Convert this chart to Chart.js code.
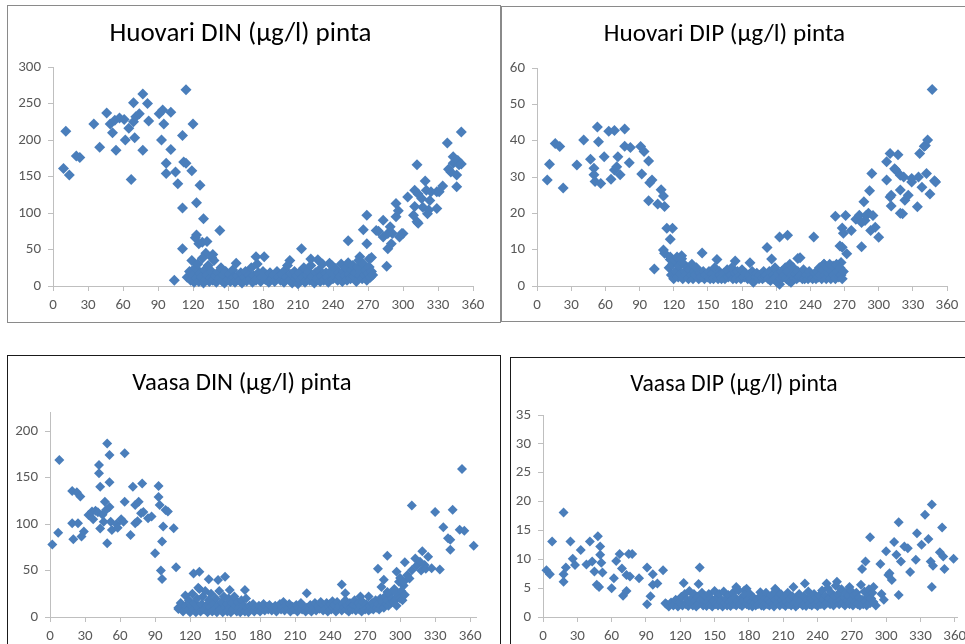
<!DOCTYPE html>
<html>
<head>
<meta charset="utf-8">
<script src="https://cdn.jsdelivr.net/npm/chart.js@4.4.1/dist/chart.umd.min.js"></script>
<style>
html, body { margin: 0; padding: 0; background: #fff; width: 965px; height: 644px; overflow: hidden; position: relative; }
.box { position: absolute; box-sizing: border-box; background: #fff; overflow: hidden; }
.box canvas { display: block; }
</style>
</head>
<body>
<div class="box" style="left:7px;top:5px;width:494px;height:318px;border:1px solid #8a8a8a"><canvas id="c1" width="492" height="316"></canvas></div>
<div class="box" style="left:501px;top:6px;width:472px;height:316px;border:1px solid #8a8a8a"><canvas id="c2" width="470" height="314"></canvas></div>
<div class="box" style="left:7px;top:355px;width:494px;height:300px;border:1px solid #1a1a1a"><canvas id="c3" width="492" height="290"></canvas></div>
<div class="box" style="left:510px;top:357px;width:470px;height:300px;border:1px solid #1a1a1a"><canvas id="c4" width="468" height="290"></canvas></div>
<script>
// day of year vs concentration
var dayTicks = [0, 30, 60, 90, 120, 150, 180, 210, 240, 270, 300, 330, 360];

var huovariDinTicks = [0, 50, 100, 150, 200, 250, 300];
var huovariDipTicks = [0, 10, 20, 30, 40, 50, 60];
var vaasaDinTicks = [0, 50, 100, 150, 200];
var vaasaDipTicks = [0, 5, 10, 15, 20, 25, 30, 35];

var huovariDIN = [
  [9,161],[11,212],[14,152],[20,178],[23,176],[35,222],[40,190],[46,237],[49,222],[51,210],[53,227],[54,186],[57,230],
  [61,228],[62,200],[65,216],[67,146],[69,225],[69,251],[70,203],[71,232],[74,236],[77,263],[77,186],[81,250],[82,226],
  [93,200],[91,236],[94,241],[95,222],[97,168],[97,154],[101,238],[101,187],[105,156],[104,8],[107,140],[111,206],
  [111,107],[111,51],[114,269],[112,170],[114,168],[119,158],[120,222],[123,114],[126,138],[129,92],[122,66],[125,58],
  [128,60],[123,70],[132,61],[143,76],[137,43],[119,35],[131,45],[136,39],[157,31],[174,40],[181,40],[203,35],[213,51],
  [221,37],[227,36],[237,31],[253,62],[263,40],[266,77],[269,97],[269,58],[271,37],[273,39],[277,76],[279,75],[283,90],
  [286,27],[283,67],[287,51],[291,72],[294,95],[294,113],[296,103],[300,72],[297,67],[290,58],[289,81],[287,72],[299,72],
  [309,97],[312,88],[312,166],[310,131],[313,126],[316,120],[310,109],[317,108],[319,144],[320,131],[322,104],[321,99],
  [323,117],[324,129],[329,106],[329,129],[331,129],[334,137],[338,196],[339,160],[341,156],[343,177],[343,168],[346,152],
  [346,136],[347,172],[348,166],[350,211],[350,167],[313,86],[304,122],
  [115,12],[117,20],[118,8],[120,15],[121,5],[122,25],[123,10],[124,30],[125,6],[126,18],[127,12],[128,38],[129,4],
  [130,22],[131,9],[132,15],[133,28],[134,6],[135,12],[136,20],[137,8],[138,35],[139,14],[140,5],[141,18],[142,10],
  [144,25],[145,7],[146,15],[147,4],[148,20],[150,10],[151,16],[152,6],[154,22],[155,12],[156,5],[158,14],[160,8],
  [161,18],[162,4],[164,12],[165,20],[166,7],[168,15],[169,10],[170,25],[171,5],[172,14],[174,8],[175,30],[176,18],
  [178,6],[179,12],[180,20],[182,9],[183,15],[185,5],[186,18],[188,10],[189,14],[190,6],[192,20],[193,12],[195,8],
  [196,16],[198,5],[199,22],[200,12],[201,28],[203,8],[204,16],[205,4],[207,20],[208,10],[209,14],[210,3],[211,18],
  [212,8],[214,12],[215,25],[216,5],[218,15],[219,20],[220,8],[221,28],[222,12],[224,4],[225,18],[226,10],[228,22],
  [229,6],[230,14],[231,30],[232,8],[234,18],[235,12],[236,5],[238,20],[239,28],[240,10],[241,15],[242,24],[244,8],
  [245,18],[246,12],[247,30],[248,6],[249,20],[250,14],[251,25],[252,8],[253,32],[254,16],[255,10],[256,22],[257,28],
  [258,12],[259,18],[260,6],[261,25],[262,35],[263,14],[264,20],[265,10],[266,30],[267,16],[268,22],[269,8],[270,18],
  [271,26],[272,12],[273,20],[274,15]
];

var huovariDIP = [
  [9,29.2],[11,33.5],[16,39.2],[20,38.4],[23,27],[35,33.3],[41,40.2],[47,34.9],[50,32.4],[50,30.6],[51,28.8],[53,43.8],
  [54,39.7],[56,28.2],[59,35.6],[63,42.6],[65,29.4],[68,42.8],[68,31.9],[70,32.8],[71,35.6],[73,30.6],[77,43.2],[77,38.5],
  [82,38.1],[81,33.9],[91,38.4],[94,37],[92,30.8],[98,34.4],[98,23.5],[101,29.2],[103,4.7],[99,28.4],[106,22.6],[109,26.5],
  [111,24.8],[112,21.9],[114,15.9],[119,15.9],[117,12.9],[111,9.9],[112,9],[145,9.1],[158,7.3],[174,6.9],[117,7.3],
  [127,8.3],[187,6.4],[202,10.6],[206,7.4],[213,13.5],[220,14],[229,7.6],[231,7.8],
  [243,13.5],[252,6],[262,19.2],[266,11],[267,6.5],[268,16],[268,10.7],[269,14.5],[271,19.4],[272,8.9],[276,15.3],
  [280,18.4],[283,19.5],[285,17.5],[285,10.8],[287,23.2],[288,18],[289,19.4],[291,20],[292,26.2],[293,15.3],[294,31],
  [295,19.4],[297,16.2],[300,13.4],[307,29.2],[307,34.2],[310,36.5],[310,24.5],[311,22],[311,25],[314,32.3],[315,31.9],
  [317,36.1],[319,30.5],[319,20],[319,26.4],[321,19.9],[322,30],[323,23.6],[326,25],[329,29.6],[329,28.6],[334,21.8],
  [335,30],[336,36.5],[338,27.2],[340,38.5],[341,38.7],[342,31],[343,40.2],[345,25.3],[347,54.1],[349,29],[350,28.6],
  [116,5],[117,8],[118,3],[119,6],[120,2],[121,7],[122,4],[123,8],[124,2.5],[125,5.5],[126,3.5],[127,7.5],[128,2],
  [129,6],[130,4],[131,3],[132,5],[133,2],[134,4.5],[135,3],[136,6],[137,2],[138,4],[139,3],[140,5],[142,2],[143,3.5],
  [144,2.5],[146,4],[147,2],[148,3],[150,2.5],[151,4],[152,2],[154,3.5],[155,2],[156,5],[157,3],[159,2],[160,4],[161,3],
  [162,2],[164,3.5],[165,2],[167,4.5],[168,2.5],[170,3],[171,5],[172,2],[174,3.5],[175,2],[176,4],[178,3],[179,2],
  [180,4.5],[182,2.5],[183,3.5],[185,2],[186,3],[188,2],[189,4],[190,1],[192,2.5],[193,3.5],[195,2],[196,3],[198,2],
  [199,4],[200,2.5],[201,3],[203,2],[204,4],[205,1.5],[207,3],[208,2],[209,5],[210,2.5],[211,1],[212,3.5],[213,0.5],
  [214,2],[215,4],[216,2.5],[217,3],[218,5],[219,2],[220,4],[221,1.5],[222,6],[223,1],[224,3],[225,5],[226,2],[227,3.5],
  [228,2],[229,4],[230,2.5],[232,3],[233,2],[234,4.5],[235,2],[236,3],[238,2],[239,4],[240,2.5],[241,3],[242,2],
  [244,3.5],[245,2],[246,4],[247,2.5],[248,5],[249,3],[250,2],[251,4.5],[252,6],[253,3],[254,2],[255,5],[256,3.5],
  [257,6],[258,2],[259,4],[260,5.5],[261,3],[262,2],[263,6],[264,4],[265,2.5],[266,5],[267,3],[268,2],[269,4]
];

var vaasaDIN = [
  [2,78],[7,90.7],[8,168.8],[19,135.5],[19,100.7],[20,83.5],[23,134.1],[24,100.7],[26,129.5],[27,86.5],[29,91.9],
  [33,109.8],[36,113.4],[37,105],[39,114.2],[41,112.7],[42,163.4],[42,154.5],[43,140.1],[43,95.3],[45,110],[46,102.5],
  [47,124],[48,115.1],[49,79.3],[49,186.7],[51,174.2],[51,144.8],[51,118.3],[52,102.5],[53,93.5],[57,100],[58,96],
  [61,105],[64,176],[63,102.5],[64,124],[69,88.2],[71,140.1],[73,120.4],[73,100.7],[75,103],[76,124],[79,143.7],
  [78,111.6],[80,113],[84,106.2],[87,108],[90,68.5],[93,141],[93,129.1],[94,120.4],[95,50],[96,41],[96,81.1],[97,97.2],
  [99,115.1],[101,113.4],[106,95.5],[108,53.5],[110,8.6],[116,23],[123,46.9],[128,48.7],[136,40.5],[144,39.8],
  [150,43.4],[167,29],[154,29],[127,31.5],
  [220,25.5],[250,35],[253,25.5],[266,22],[273,22],[281,52],[289,66],[297,48.7],[299,38],[284,32.3],[289,27],[293,19.7],
  [299,23.3],[300,42],[303,34],[304,59],[306,45],[310,120],[308,41.4],[310,50.4],[313,63],[314,55],[317,59.4],[318,50],
  [319,70.8],[321,55.8],[322,52],[324,64.8],[327,52.3],[330,112.8],[334,51.2],[337,96.6],[341,84.8],[343,72.3],[343,83],
  [345,115.3],[353,159.2],[351,93.9],[355,92.8],[363,76.7],[286,40],[295,30],
  [110,10],[112,15],[114,6],[116,12],[118,8],[119,18],[120,5],[121,12],[122,25],[123,8],[124,15],[125,5],[126,20],
  [127,10],[128,30],[129,6],[130,14],[131,22],[132,8],[133,28],[134,12],[135,5],[136,18],[137,10],[138,25],[139,6],
  [140,14],[141,8],[142,20],[143,5],[144,12],[145,28],[146,8],[147,16],[148,5],[149,22],[150,10],[151,14],[152,6],
  [153,20],[154,10],[155,5],[156,15],[157,8],[158,22],[159,12],[160,6],[161,16],[162,10],[163,5],[164,18],[165,8],
  [166,12],[167,6],[168,20],[169,10],[170,5],[171,12],[172,8],[174,14],[175,6],[176,10],[178,8],[179,12],[180,6],
  [182,10],[183,14],[184,7],[186,11],[187,8],[188,13],[190,7],[191,10],[193,12],[194,6],[195,9],[197,14],[198,8],
  [199,11],[200,16],[201,7],[202,12],[204,9],[205,14],[206,6],[208,11],[209,8],[211,13],[212,6],[213,10],[215,15],
  [216,8],[217,12],[219,6],[220,10],[222,8],[223,13],[224,6],[226,10],[227,15],[228,7],[230,12],[231,9],[232,16],
  [234,7],[235,12],[236,9],[237,15],[238,6],[239,11],[240,14],[241,8],[242,17],[243,10],[244,13],[245,6],[246,16],
  [247,9],[248,12],[250,7],[251,14],[252,10],[253,18],[254,8],[255,12],[256,6],[257,15],[258,10],[259,8],[260,13],
  [261,18],[262,7],[263,11],[264,15],[265,8],[266,12],[267,6],[268,16],[269,10],[270,8],[271,14],[272,10],[273,7],
  [274,12],[275,9],[276,15],[277,8],[278,12],[279,18],[280,10],[281,14],[282,8],[283,20],[284,12],[285,16],[286,10],
  [287,22],[288,14],[289,18],[290,12],[291,25],[292,15],[293,20],[294,16],[295,28],[296,18],[297,12],[298,22],[300,20],
  [301,28],[302,18],[303,38],[304,24]
];

var vaasaDIP = [
  [3,8.1],[6,7.4],[8,13.1],[18,18.1],[18,7.4],[20,8.6],[18,6.1],[24,13.1],[26,10.1],[28,9],[33,11.6],[38,9.1],
  [41,13.1],[43,9.6],[45,7.9],[47,5.6],[48,14],[50,12.2],[50,10.8],[51,9.4],[52,7.7],[49,5.2],[60,5],[62,6.7],
  [64,9.7],[67,10.9],[69,8.4],[70,3.7],[73,4.5],[73,7.3],[75,10.9],[78,10.9],[76,7],[84,6.7],[91,8.6],[91,2.2],
  [94,3.6],[96,7.4],[96,5.6],[100,5.8],[105,8.1],[107,2.4],[123,5.9],[137,8.6],[136,5.7],[169,5.2],[178,4.9],
  [340,19.5],[334,17.7],[349,15.5],[311,16.4],[286,13.8],[327,14.5],[337,13.5],[331,12.5],[319,11.9],[307,13],
  [347,11.2],[350,10.5],[359,10.1],[339,9.6],[326,9.9],[341,8.9],[351,8.3],[340,5.2],[311,3.8],[282,9.6],[279,8.3],
  [295,9.2],[300,11.4],[302,7.3],[313,9.6],[303,7.6],[289,5.2],[291,2],[286,3.2],[229,5.8],[257,6.1],[248,5.8],
  [268,5.2],[219,5.2],[203,4.9],[190,4.3],[176,4.6],[305,6.4],[309,10.8],[316,12.2],[321,7.8],[296,4],[298,3],
  [108,2.2],[110,1.8],[112,2.5],[114,2],[116,3],[118,1.8],[120,2.5],[121,3.5],[122,2],[124,4],[125,2.2],[126,3],
  [127,1.9],[128,4.5],[129,2.5],[130,3.2],[131,2],[132,4],[133,2.8],[134,1.8],[135,3.5],[136,2.2],[138,3],[139,4.2],
  [140,2],[141,2.8],[142,3.6],[143,1.9],[144,2.6],[145,4],[146,2.2],[147,3.2],[148,1.8],[149,2.8],[150,4.5],[151,2.2],
  [152,3.4],[153,2],[154,4],[155,2.6],[156,3],[157,1.8],[158,4.4],[159,2.4],[160,3.2],[161,2],[162,3.8],[163,2.6],
  [164,1.9],[165,3],[166,4.2],[167,2.2],[168,3.4],[169,2],[170,2.8],[171,4.6],[172,2.2],[173,3.2],[174,1.9],[175,2.8],
  [176,3.8],[178,2.2],[179,3],[180,2],[181,4],[182,2.6],[183,1.8],[184,3.4],[185,2.4],[186,2],[187,3],[188,2.2],
  [190,3.6],[191,2],[192,2.8],[193,1.9],[194,3.2],[195,4.2],[196,2.2],[197,3],[198,2],[199,2.6],[200,3.8],[201,2.2],
  [202,1.8],[203,3],[204,4.6],[205,2.4],[206,3.4],[207,2],[208,4],[209,2.8],[210,2.2],[211,3.4],[212,1.9],[213,2.6],
  [214,4.2],[215,2.2],[216,3],[217,2],[218,3.6],[220,2.4],[221,1.8],[222,3.2],[223,2.2],[224,4],[225,2.6],[226,3],
  [227,2],[228,3.6],[229,2.4],[230,1.9],[231,3],[232,4.4],[233,2.2],[234,3.2],[235,2],[236,2.8],[237,4],[238,2.2],
  [239,3.4],[240,1.9],[241,2.6],[242,3.8],[243,2.2],[244,4.6],[245,3],[246,2],[247,3.6],[248,2.4],[249,5],[250,3.2],
  [251,2.2],[252,4.2],[253,2.8],[254,2],[255,3.6],[256,5.4],[257,2.6],[258,4],[259,2.2],[260,3],[261,4.8],[262,2.4],
  [263,3.4],[264,2],[265,4.2],[266,2.8],[267,3.6],[268,2.2],[269,4.6],[270,3],[271,2],[272,3.8],[273,2.6],[274,4.2],
  [275,2.2],[276,3.4],[277,2],[278,5.6],[279,3],[280,2.2],[281,4.4],[282,2.8],[283,2],[284,3.6],[285,4.8],[286,2.4],
  [287,3.2],[288,4.2],[289,2.6]
];

var fontFamily = "Carlito, Calibri, Lato, sans-serif";
var axisColor = '#bfbfbf';
var labelColor = '#595959';
var markerColor = '#4a7ebb';

function toPoints(pairs) {
  return pairs.map(function (p) { return { x: p[0], y: p[1] }; });
}

function makeChart(id, title, pairs, yTicks, o) {
  var ctx = document.getElementById(id).getContext('2d');
  return new Chart(ctx, {
    type: 'scatter',
    data: {
      datasets: [{
        data: toPoints(pairs),
        pointStyle: 'rectRot',
        pointRadius: o.radius,
        pointHoverRadius: o.radius,
        backgroundColor: markerColor,
        borderColor: markerColor,
        borderWidth: 0,
        clip: false
      }]
    },
    options: {
      responsive: false,
      animation: false,
      layout: { padding: { top: 0, right: o.padRight, bottom: 0, left: 0 } },
      plugins: {
        legend: { display: false },
        tooltip: { enabled: false },
        title: {
          display: true,
          text: title,
          color: '#000',
          font: { family: fontFamily, size: o.titleSize, weight: 'normal', lineHeight: 1.2 },
          padding: { top: o.titleTop, bottom: o.titleBottom }
        }
      },
      scales: {
        x: {
          type: 'linear',
          min: 0,
          max: o.xMax,
          afterBuildTicks: function (s) { s.ticks = dayTicks.map(function (v) { return { value: v }; }); },
          afterFit: function (s) { s.height = o.xHeight; },
          grid: { drawOnChartArea: false, drawTicks: true, tickLength: 5, color: axisColor },
          border: { color: axisColor, width: 1 },
          ticks: { color: labelColor, font: { family: fontFamily, size: 15 }, padding: 5, maxRotation: 0, autoSkip: false }
        },
        y: {
          type: 'linear',
          min: 0,
          max: o.yMax,
          afterBuildTicks: function (s) { s.ticks = yTicks.map(function (v) { return { value: v }; }); },
          afterFit: function (s) { s.width = o.yWidth; },
          grid: { drawOnChartArea: false, drawTicks: true, tickLength: 5, color: axisColor },
          border: { color: axisColor, width: 1 },
          ticks: { color: labelColor, font: { family: fontFamily, size: 15 }, padding: 7, autoSkip: false }
        }
      }
    }
  });
}

makeChart('c1', 'Huovari DIN (µg/l) pinta', huovariDIN, huovariDinTicks,
  { xMax: 360, yMax: 300, yWidth: 45, xHeight: 36, padRight: 27, titleSize: 27, titleTop: 12.5, titleBottom: 16.1, radius: 5.5 });
makeChart('c2', 'Huovari DIP (µg/l) pinta', huovariDIP, huovariDipTicks,
  { xMax: 360, yMax: 60, yWidth: 35, xHeight: 35, padRight: 25, titleSize: 25.2, titleTop: 12.6, titleBottom: 18.2, radius: 5.5 });
makeChart('c3', 'Vaasa DIN (µg/l) pinta', vaasaDIN, vaasaDinTicks,
  { xMax: 365, yMax: 220, yWidth: 42, xHeight: 29, padRight: 24, titleSize: 24.7, titleTop: 12.6, titleBottom: 14.2, radius: 5 });
makeChart('c4', 'Vaasa DIP (µg/l) pinta', vaasaDIP, vaasaDipTicks,
  { xMax: 362, yMax: 35, yWidth: 32, xHeight: 31, padRight: 22, titleSize: 23.7, titleTop: 12.4, titleBottom: 16.2, radius: 5 });
</script>
</body>
</html>
